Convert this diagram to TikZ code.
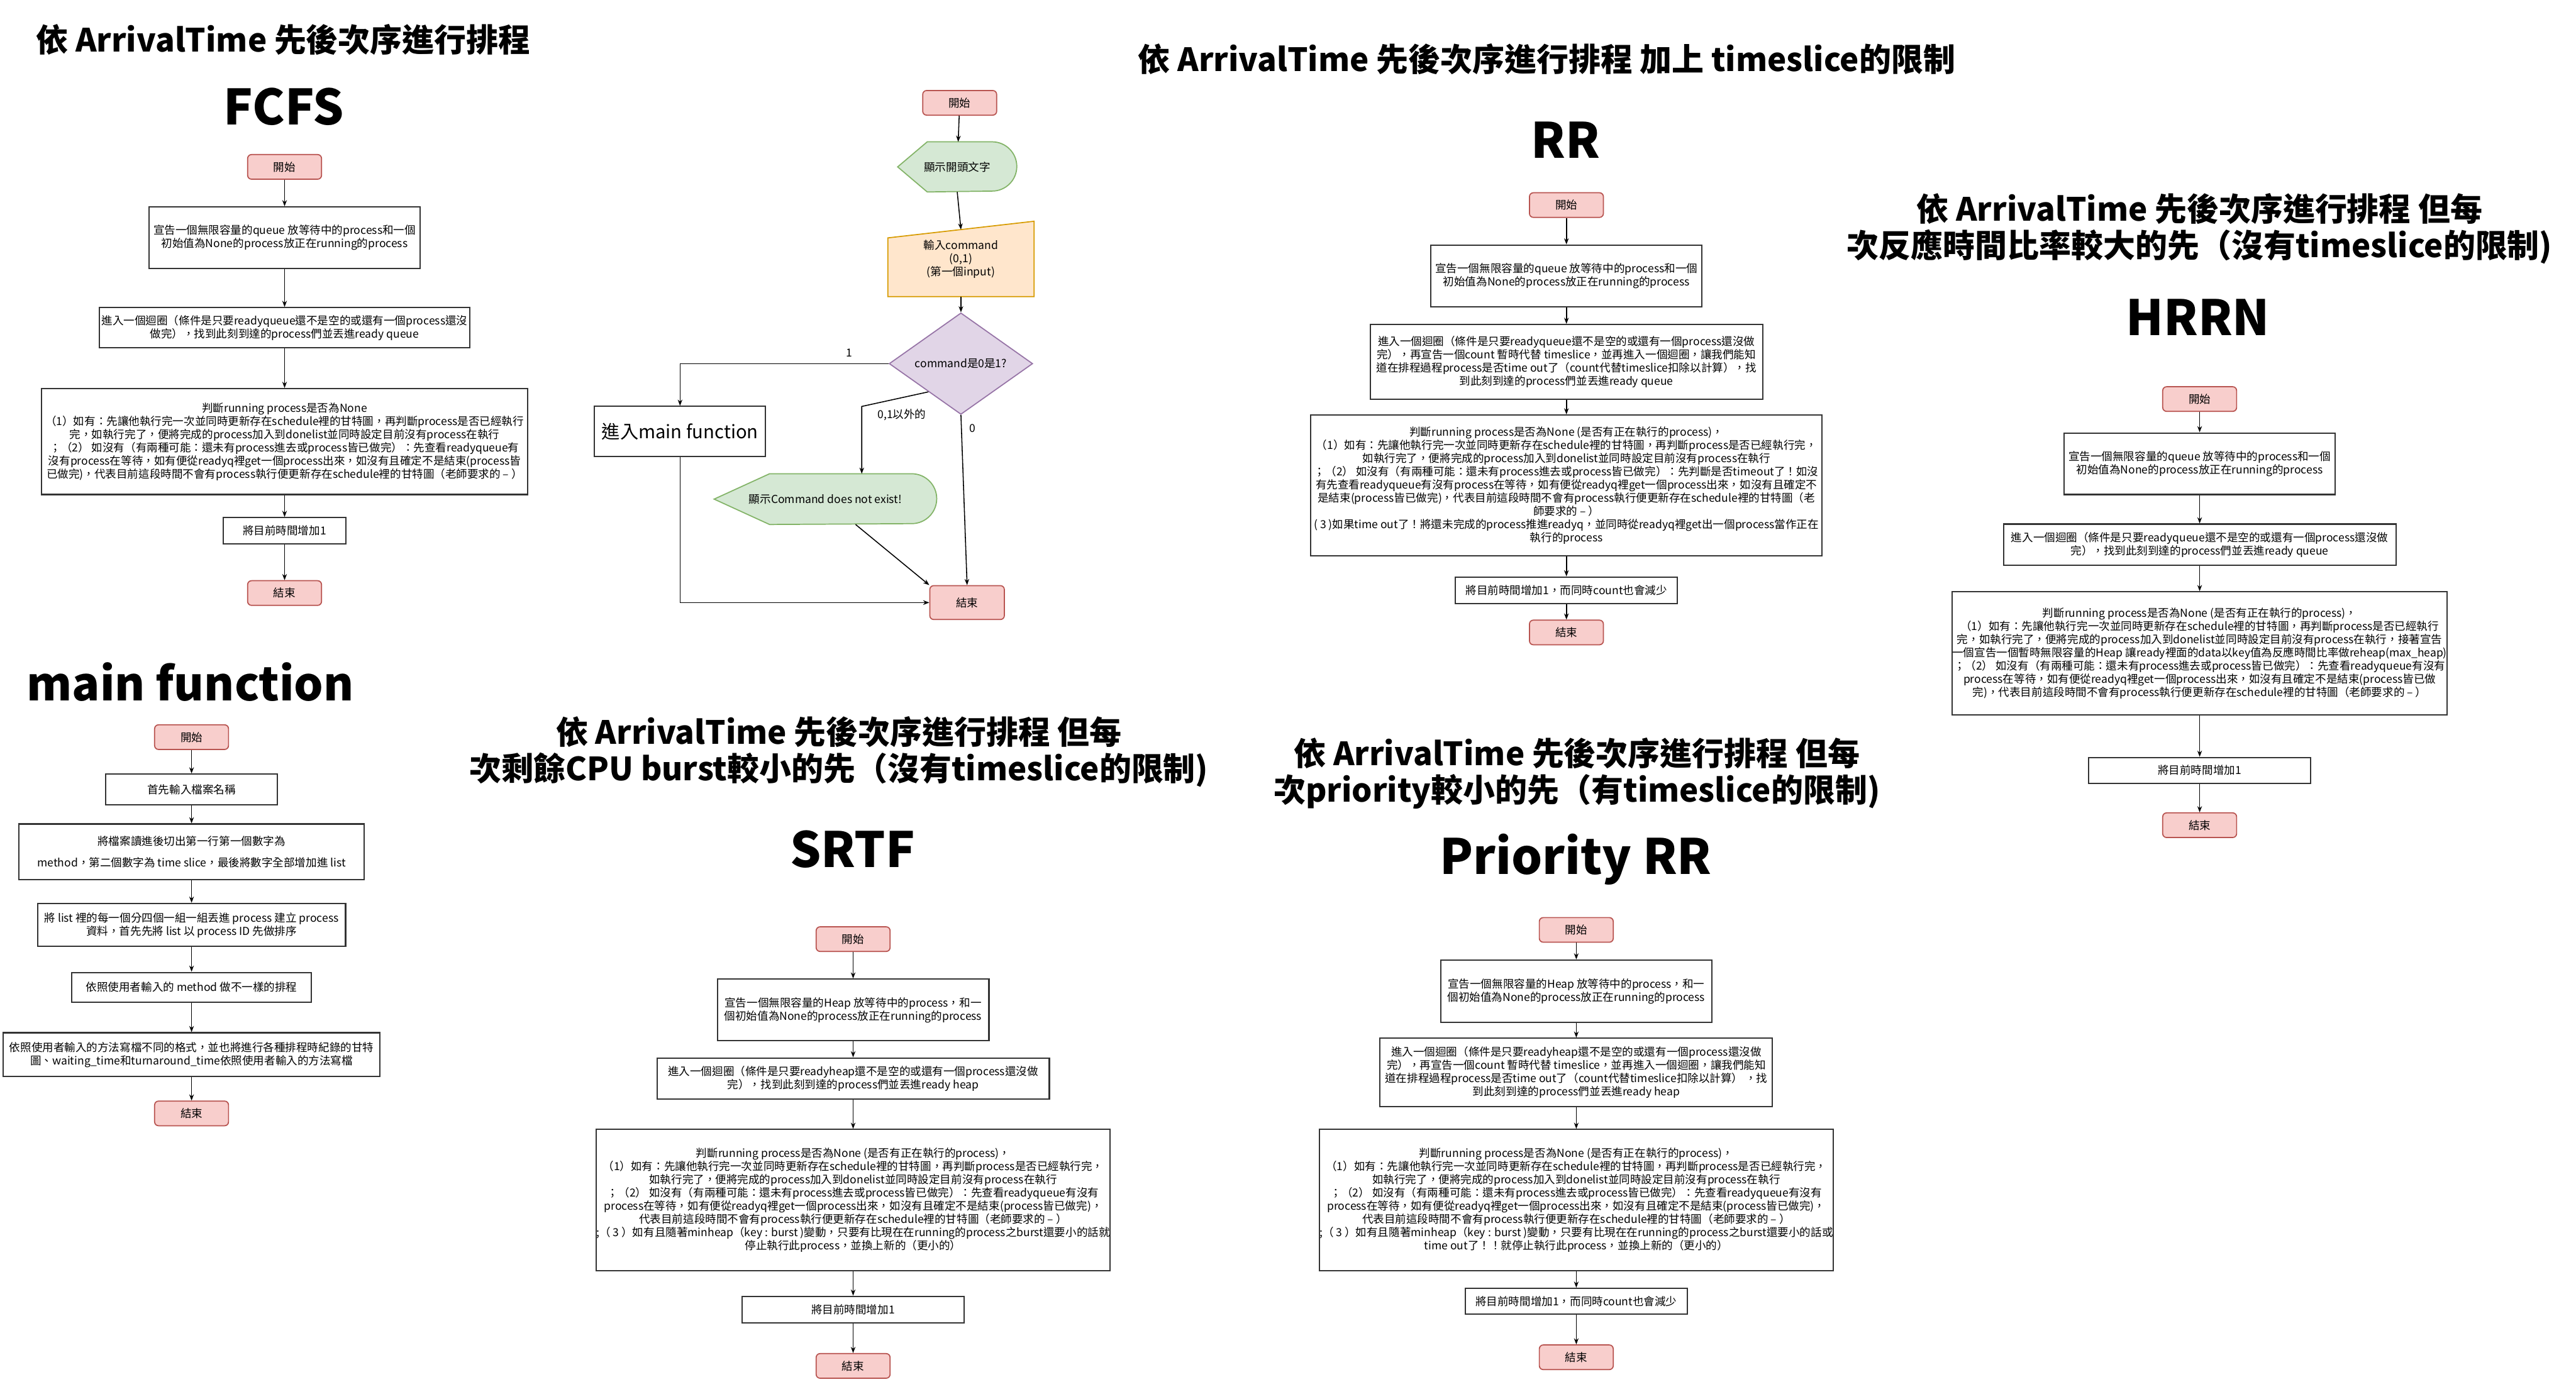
\documentclass[tikz,border=0pt]{standalone}
\usepackage{fontspec}
\setmainfont{Noto Sans CJK TC}
\usetikzlibrary{arrows.meta,positioning,shapes.geometric,calc,backgrounds}
\definecolor{TermFill}{HTML}{F8CECC}
\definecolor{TermLine}{HTML}{B85450}
\definecolor{ShowFill}{HTML}{D5E8D4}
\definecolor{ShowLine}{HTML}{82B366}
\definecolor{InFill}  {HTML}{FFE6CC}
\definecolor{InLine}  {HTML}{D79B00}
\definecolor{AskFill} {HTML}{E1D5E7}
\definecolor{AskLine} {HTML}{9673A6}
\definecolor{BoxLine} {HTML}{333333}
\newcommand{\bodyfont}{\fontsize{5.1}{6.1}\selectfont}
\newcommand{\headfont}{\fontsize{14.8}{17}\selectfont\bfseries}
\newcommand{\namefont}{\fontsize{22.5}{24}\selectfont\bfseries}
\tikzset{
  term/.style={rectangle,rounded corners=1.8pt,draw=TermLine,fill=TermFill,
               line width=0.5pt,font=\bodyfont,minimum width=1.2cm,
               minimum height=0.4cm,inner sep=0pt},
  pbox/.style 2 args={rectangle,draw=BoxLine,fill=white,line width=0.6pt,
               font=\bodyfont,align=center,inner sep=0pt,
               minimum width=#1cm,minimum height=#2cm},
  showbox/.style={font=\bodyfont,align=center,inner sep=0pt},
  showline/.style={draw=ShowLine,fill=ShowFill,line width=0.5pt},
  head/.style={font=\headfont,align=center},
  algo/.style={font=\namefont},
  lbl/.style={font=\bodyfont,inner sep=0pt},
  arr/.style={-{Stealth[length=1mm,width=0.75mm]},line width=0.45pt,color=black},
}

\begin{document}
\begin{tikzpicture}

  \path[use as bounding box] (0,0) rectangle (41.82,-22.44);

  % FCFS
  \node[head] (fHead) at (4.60,-0.64) {依 ArrivalTime 先後次序進行排程};
  \node[algo] (fName) at (4.61,-1.73) {FCFS};
  \node[term] (fStart) at (4.62,-2.71) {開始};
  \node[pbox={4.40}{1.00}] (fDecl) at (4.62,-3.86)
    {宣告一個無限容量的queue 放等待中的process和一個\\初始值為None的process放正在running的process};
  \node[pbox={6.01}{0.65}] (fLoop) at (4.62,-5.32)
    {進入一個迴圈（條件是只要readyqueue還不是空的或還有一個process還沒\\做完），找到此刻到達的process們並丟進ready queue};
  \node[pbox={7.90}{1.72}] (fJudge) at (4.62,-7.17)
    {判斷running process是否為None\\
     （1）如有：先讓他執行完一次並同時更新存在schedule裡的甘特圖，再判斷process是否已經執行\\
     完，如執行完了，便將完成的process加入到donelist並同時設定目前沒有process在執行\\
     ；（2） 如沒有（有兩種可能：還未有process進去或process皆已做完）：先查看readyqueue有\\
     沒有process在等待，如有便從readyq裡get一個process出來，如沒有且確定不是結束(process皆\\
     已做完)，代表目前這段時間不會有process執行便更新存在schedule裡的甘特圖（老師要求的 – ）};
  \node[pbox={1.99}{0.43}] (fTick) at (4.62,-8.62) {將目前時間增加1};
  \node[term] (fEnd) at (4.62,-9.63) {結束};

  \draw[arr] (fStart) -- (fDecl);
  \draw[arr] (fDecl) -- (fLoop);
  \draw[arr] (fLoop) -- (fJudge);
  \draw[arr] (fJudge) -- (fTick);
  \draw[arr] (fTick) -- (fEnd);

  % top level flow
  \node[term] (mStart) at (15.58,-1.67) {開始};
  \node[showbox,minimum width=1.92cm,minimum height=0.80cm] (mShow) at (15.54,-2.71) {顯示開頭文字};
  \node[showbox,minimum width=2.36cm,minimum height=1.21cm] (mInput) at (15.60,-4.205)
    {輸入command\\(0,1)\\(第一個input)};
  \node[diamond,draw=AskLine,fill=AskFill,line width=0.5pt,font=\bodyfont,inner sep=0pt,
        minimum width=2.33cm,minimum height=1.35cm] (mCheck) at (15.60,-5.905) {command是0是1?};
  \node[pbox={2.78}{0.81},font=\fontsize{8.5}{10}\selectfont] (mMain) at (11.04,-7.005) {進入main function};
  \node[showbox,minimum width=3.60cm,minimum height=0.81cm] (mError) at (13.40,-8.105)
    {顯示Command does not exist!};
  \node[term,minimum width=1.21cm,minimum height=0.55cm] (mEnd) at (15.70,-9.785) {結束};

  \begin{scope}[on background layer]
    \fill[white] (0,0) rectangle (41.82,-22.44);
    \path[showline] (mShow.west) -- ($(mShow.north west)+(0.48,0)$) -- ($(mShow.north east)+(-0.4,0)$)
      arc[start angle=90,end angle=-90,radius=0.4] -- ($(mShow.south west)+(0.48,0)$) -- cycle;
    \path[showline] (mError.west) -- ($(mError.north west)+(0.9,0)$) -- ($(mError.north east)+(-0.405,0)$)
      arc[start angle=90,end angle=-90,radius=0.405] -- ($(mError.south west)+(0.9,0)$) -- cycle;
    \path[draw=InLine,fill=InFill,line width=0.5pt] (mInput.south west) -- ($(mInput.north west)+(0,-0.27)$)
      -- (mInput.north east) -- (mInput.south east) -- cycle;
  \end{scope}

  \coordinate (mInTop) at ($(mInput.north)+(0,-0.135)$);
  \coordinate (mElse) at ($(mCheck.west)!0.55!(mCheck.south)$);
  \coordinate (mBend) at (13.99,-6.60);
  \coordinate (mErrOut) at ($(mError.south)+(0.49,0)$);

  \draw[arr] (mStart) -- (mShow);
  \draw[arr] (mShow.south) -- (mInTop);
  \draw[arr] (mInput) -- (mCheck);
  \draw[arr] (mCheck.west) -| (mMain.north) node[lbl,pos=0.094,above=0.1cm] (lOne) {1};
  \draw[arr] (mElse) -- (mBend) -- (mBend |- mError.north);
  \node[lbl,below right=0.04cm and 0.25cm of mBend] (lOther) {0,1以外的};
  \draw[arr] (mCheck.south) -- (mEnd.north) node[lbl,pos=0.08,right=0.12cm] (lZero) {0};
  \draw[arr] (mErrOut) -- (mEnd.north west);
  \draw[arr] (mMain.south) |- (mEnd.west);

  % RR
  \node[head] (rHead) at (25.11,-0.96) {依 ArrivalTime 先後次序進行排程 加上 timeslice的限制};
  \node[algo] (rName) at (25.42,-2.27) {RR};
  \node[term] (rStart) at (25.43,-3.33) {開始};
  \node[pbox={4.40}{1.00}] (rDecl) at (25.43,-4.48)
    {宣告一個無限容量的queue 放等待中的process和一個\\初始值為None的process放正在running的process};
  \node[pbox={6.37}{1.21}] (rLoop) at (25.43,-5.875)
    {進入一個迴圈（條件是只要readyqueue還不是空的或還有一個process還沒做\\
     完），再宣告一個count 暫時代替 timeslice，並再進入一個迴圈，讓我們能知\\
     道在排程過程process是否time out了（count代替timeslice扣除以計算），找\\
     到此刻到達的process們並丟進ready queue};
  \node[pbox={8.30}{2.29}] (rJudge) at (25.43,-7.885)
    {判斷running process是否為None (是否有正在執行的process)，\\
     （1）如有：先讓他執行完一次並同時更新存在schedule裡的甘特圖，再判斷process是否已經執行完，\\
     如執行完了，便將完成的process加入到donelist並同時設定目前沒有process在執行\\
     ；（2） 如沒有（有兩種可能：還未有process進去或process皆已做完）：先判斷是否timeout了！如沒\\
     有先查看readyqueue有沒有process在等待，如有便從readyq裡get一個process出來，如沒有且確定不\\
     是結束(process皆已做完)，代表目前這段時間不會有process執行便更新存在schedule裡的甘特圖（老\\
     師要求的 – ）\\
     ( 3 )如果time out了！將還未完成的process推進readyq，並同時從readyq裡get出一個process當作正在\\
     執行的process};
  \node[pbox={3.60}{0.43}] (rTick) at (25.43,-9.585) {將目前時間增加1，而同時count也會減少};
  \node[term] (rEnd) at (25.43,-10.27) {結束};

  \draw[arr] (rStart) -- (rDecl);
  \draw[arr] (rDecl) -- (rLoop);
  \draw[arr] (rLoop) -- (rJudge);
  \draw[arr] (rJudge) -- (rTick);
  \draw[arr] (rTick) -- (rEnd);

  % HRRN
  \node[head] (hHead) at (35.71,-3.715)
    {依 ArrivalTime 先後次序進行排程 但每\\次反應時間比率較大的先（沒有timeslice的限制)};
  \node[algo] (hName) at (35.68,-5.15) {HRRN};
  \node[term] (hStart) at (35.71,-6.48) {開始};
  \node[pbox={4.40}{1.00}] (hDecl) at (35.71,-7.53)
    {宣告一個無限容量的queue 放等待中的process和一個\\初始值為None的process放正在running的process};
  \node[pbox={6.37}{0.67}] (hLoop) at (35.71,-8.845)
    {進入一個迴圈（條件是只要readyqueue還不是空的或還有一個process還沒做\\完），找到此刻到達的process們並丟進ready queue};
  \node[pbox={8.04}{2.00}] (hJudge) at (35.71,-10.61)
    {判斷running process是否為None (是否有正在執行的process)，\\
     （1）如有：先讓他執行完一次並同時更新存在schedule裡的甘特圖，再判斷process是否已經執行\\
     完，如執行完了，便將完成的process加入到donelist並同時設定目前沒有process在執行，接著宣告\\
     一個宣告一個暫時無限容量的Heap 讓ready裡面的data以key值為反應時間比率做reheap(max\_heap)\\
     ；（2） 如沒有（有兩種可能：還未有process進去或process皆已做完）：先查看readyqueue有沒有\\
     process在等待，如有便從readyq裡get一個process出來，如沒有且確定不是結束(process皆已做\\
     完)，代表目前這段時間不會有process執行便更新存在schedule裡的甘特圖（老師要求的 – ）};
  \node[pbox={3.61}{0.42}] (hTick) at (35.71,-12.51) {將目前時間增加1};
  \node[term] (hEnd) at (35.71,-13.40) {結束};

  \draw[arr] (hStart) -- (hDecl);
  \draw[arr] (hDecl) -- (hLoop);
  \draw[arr] (hLoop) -- (hJudge);
  \draw[arr] (hJudge) -- (hTick);
  \draw[arr] (hTick) -- (hEnd);

  % main function
  \node[algo,font=\fontsize{21.3}{23}\selectfont\bfseries] (aName) at (3.09,-11.07) {main function};
  \node[term] (aStart) at (3.11,-11.97) {開始};
  \node[pbox={2.78}{0.50}] (aFile) at (3.11,-12.82) {首先輸入檔案名稱};
  \node[pbox={5.61}{0.90}] (aRead) at (3.11,-13.83)
    {將檔案讀進後切出第一行第一個數字為\\[0.13cm]method，第二個數字為 time slice，最後將數字全部增加進 list};
  \node[pbox={5.00}{0.70}] (aSplit) at (3.11,-15.02)
    {將 list 裡的每一個分四個一組一組丟進 process 建立 process\\資料，首先先將 list 以 process ID 先做排序};
  \node[pbox={3.89}{0.48}] (aSched) at (3.11,-16.03) {依照使用者輸入的 method 做不一樣的排程};
  \node[pbox={6.12}{0.71}] (aWrite) at (3.11,-17.125)
    {依照使用者輸入的方法寫檔不同的格式，並也將進行各種排程時紀錄的甘特\\圖、waiting\_time和turnaround\_time依照使用者輸入的方法寫檔};
  \node[term] (aEnd) at (3.11,-18.08) {結束};

  \draw[arr] (aStart) -- (aFile);
  \draw[arr] (aFile) -- (aRead);
  \draw[arr] (aRead) -- (aSplit);
  \draw[arr] (aSplit) -- (aSched);
  \draw[arr] (aSched) -- (aWrite);
  \draw[arr] (aWrite) -- (aEnd);

  % SRTF
  \node[head] (sHead) at (13.62,-12.21)
    {依 ArrivalTime 先後次序進行排程 但每\\次剩餘CPU burst較小的先（沒有timeslice的限制)};
  \node[algo] (sName) at (13.84,-13.79) {SRTF};
  \node[term] (sStart) at (13.85,-15.25) {開始};
  \node[pbox={4.41}{1.00}] (sDecl) at (13.85,-16.40)
    {宣告一個無限容量的Heap 放等待中的process，和一\\個初始值為None的process放正在running的process};
  \node[pbox={6.37}{0.67}] (sLoop) at (13.85,-17.515)
    {進入一個迴圈（條件是只要readyheap還不是空的或還有一個process還沒做\\完），找到此刻到達的process們並丟進ready heap};
  \node[pbox={8.32}{2.29}] (sJudge) at (13.85,-19.485)
    {判斷running process是否為None (是否有正在執行的process)，\\
     （1）如有：先讓他執行完一次並同時更新存在schedule裡的甘特圖，再判斷process是否已經執行完，\\
     如執行完了，便將完成的process加入到donelist並同時設定目前沒有process在執行\\
     ；（2） 如沒有（有兩種可能：還未有process進去或process皆已做完）：先查看readyqueue有沒有\\
     process在等待，如有便從readyq裡get一個process出來，如沒有且確定不是結束(process皆已做完)，\\
     代表目前這段時間不會有process執行便更新存在schedule裡的甘特圖（老師要求的 – ）\\
     ;（ 3 ）如有且隨著minheap（key : burst )變動，只要有比現在在running的process之burst還要小的話就\\
     停止執行此process，並換上新的（更小的）};
  \node[pbox={3.60}{0.43}] (sTick) at (13.85,-21.265) {將目前時間增加1};
  \node[term] (sEnd) at (13.85,-22.18) {結束};

  \draw[arr] (sStart) -- (sDecl);
  \draw[arr] (sDecl) -- (sLoop);
  \draw[arr] (sLoop) -- (sJudge);
  \draw[arr] (sJudge) -- (sTick);
  \draw[arr] (sTick) -- (sEnd);

  % Priority RR
  \node[head] (pHead) at (25.60,-12.56)
    {依 ArrivalTime 先後次序進行排程 但每\\次priority較小的先（有timeslice的限制)};
  \node[algo] (pName) at (25.58,-13.95) {Priority RR};
  \node[term] (pStart) at (25.59,-15.10) {開始};
  \node[pbox={4.40}{1.01}] (pDecl) at (25.59,-16.095)
    {宣告一個無限容量的Heap 放等待中的process，和一\\個初始值為None的process放正在running的process};
  \node[pbox={6.37}{1.11}] (pLoop) at (25.59,-17.415)
    {進入一個迴圈（條件是只要readyheap還不是空的或還有一個process還沒做\\
     完），再宣告一個count 暫時代替 timeslice，並再進入一個迴圈，讓我們能知\\
     道在排程過程process是否time out了（count代替timeslice扣除以計算） ，找\\
     到此刻到達的process們並丟進ready heap};
  \node[pbox={8.31}{2.29}] (pJudge) at (25.59,-19.485)
    {判斷running process是否為None (是否有正在執行的process)，\\
     （1）如有：先讓他執行完一次並同時更新存在schedule裡的甘特圖，再判斷process是否已經執行完，\\
     如執行完了，便將完成的process加入到donelist並同時設定目前沒有process在執行\\
     ；（2） 如沒有（有兩種可能：還未有process進去或process皆已做完）：先查看readyqueue有沒有\\
     process在等待，如有便從readyq裡get一個process出來，如沒有且確定不是結束(process皆已做完)，\\
     代表目前這段時間不會有process執行便更新存在schedule裡的甘特圖（老師要求的 – ）\\
     ;（ 3 ）如有且隨著minheap（key : burst )變動，只要有比現在在running的process之burst還要小的話或\\
     time out了！！就停止執行此process，並換上新的（更小的）};
  \node[pbox={3.60}{0.42}] (pTick) at (25.59,-21.13) {將目前時間增加1，而同時count也會減少};
  \node[term] (pEnd) at (25.59,-22.04) {結束};

  \draw[arr] (pStart) -- (pDecl);
  \draw[arr] (pDecl) -- (pLoop);
  \draw[arr] (pLoop) -- (pJudge);
  \draw[arr] (pJudge) -- (pTick);
  \draw[arr] (pTick) -- (pEnd);

\end{tikzpicture}
\end{document}
